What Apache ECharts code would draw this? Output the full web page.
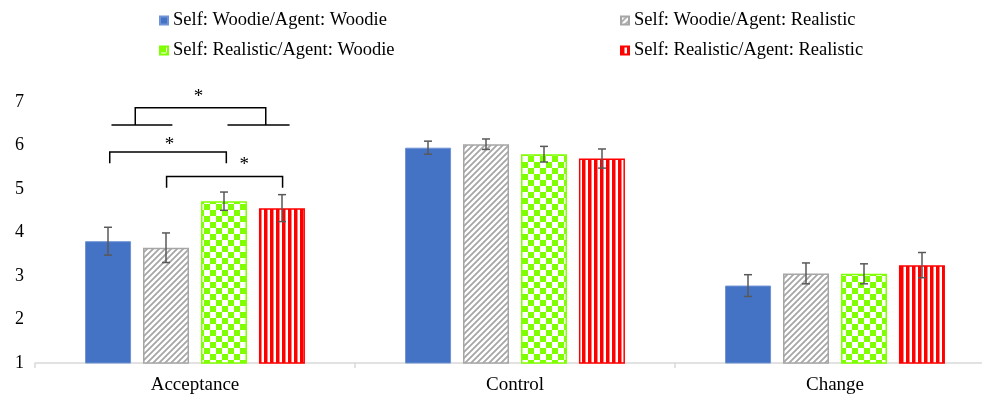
<!DOCTYPE html>
<html>
<head>
<meta charset="utf-8">
<script src="https://cdn.jsdelivr.net/npm/echarts@6/dist/echarts.min.js"></script>
<style>
  html, body { margin: 0; padding: 0; background: #fff; }
  #chart { width: 982px; height: 396px; }
</style>
</head>
<body>
<div id="chart"></div>
<script>
// Scale means per condition and their error margins
const categories = ['Acceptance', 'Control', 'Change'];
const seriesNames = [
  'Self: Woodie/Agent: Woodie',
  'Self: Woodie/Agent: Realistic',
  'Self: Realistic/Agent: Woodie',
  'Self: Realistic/Agent: Realistic'
];
const woodieWoodie = [3.80, 5.95, 2.78];
const woodieRealistic = [3.65, 6.03, 3.06];
const realisticWoodie = [4.72, 5.80, 3.05];
const realisticRealistic = [4.56, 5.70, 3.25];
const errWoodieWoodie = [0.32, 0.15, 0.25];
const errWoodieRealistic = [0.34, 0.12, 0.24];
const errRealisticWoodie = [0.21, 0.18, 0.23];
const errRealisticRealistic = [0.31, 0.22, 0.29];
const yTicks = [1, 2, 3, 4, 5, 6, 7];

// Significance brackets over the Acceptance group (bar slots -1.5..1.5, y in scale units)
const pairSpans = [[-1.47, 0.54], [-0.49, 1.51]];
const pairLevels = [5.85, 5.29];
const pairStars = [[-0.44, 6.00], [0.85, 5.55]];
const groupBases = [[-1.44, -0.39], [0.56, 1.63]];
const groupLegs = [-1.03, 1.22];
const groupLevel = 6.87;
const groupBaseLevel = 6.47;
const groupStar = [0.06, 7.11];

const means = [woodieWoodie, woodieRealistic, realisticWoodie, realisticRealistic];
const errs = [errWoodieWoodie, errWoodieRealistic, errRealisticWoodie, errRealisticRealistic];

const FONT = '"Liberation Serif", "Times New Roman", serif';
const BAR_W = 46;
const BAR_STEP = 58;

function makeCanvas(w, h, draw) {
  const c = document.createElement('canvas');
  c.width = w; c.height = h;
  const ctx = c.getContext('2d');
  ctx.fillStyle = '#ffffff';
  ctx.fillRect(0, 0, w, h);
  draw(ctx);
  return c;
}
// diagonal hatch (/)
const hatch = makeCanvas(6, 6, ctx => {
  ctx.strokeStyle = '#a6a6a6';
  ctx.lineWidth = 1.8;
  ctx.beginPath();
  ctx.moveTo(-1, 7); ctx.lineTo(7, -1);
  ctx.moveTo(-4, 4); ctx.lineTo(4, -4);
  ctx.moveTo(2, 10); ctx.lineTo(10, 2);
  ctx.stroke();
});
// checkerboard
const checker = makeCanvas(12, 12, ctx => {
  ctx.fillStyle = '#80ff00';
  ctx.fillRect(0, 0, 6, 6);
  ctx.fillRect(6, 6, 6, 6);
});
// vertical stripes
const stripes = makeCanvas(6, 6, ctx => {
  ctx.fillStyle = '#ff0000';
  ctx.fillRect(0, 0, 3.5, 6);
});

const styles = [
  { color: '#4472c4', borderColor: '#6f93d6', borderWidth: 1 },
  { color: { image: hatch, repeat: 'repeat' }, borderColor: '#a6a6a6', borderWidth: 1.5 },
  { color: { image: checker, repeat: 'repeat' }, borderColor: '#80ff00', borderWidth: 1.5 },
  { color: { image: stripes, repeat: 'repeat' }, borderColor: '#ff0000', borderWidth: 1.5 }
];

const barSeries = seriesNames.map((name, i) => ({
  name,
  type: 'bar',
  data: means[i],
  barWidth: BAR_W,
  barGap: '26%',
  itemStyle: styles[i],
  emphasis: { disabled: true },
  z: 2
}));

const errData = [];
means.forEach((m, s) => m.forEach((v, c) => errData.push([c, s, v - errs[s][c], v + errs[s][c]])));

const errSeries = {
  type: 'custom',
  silent: true,
  z: 5,
  data: errData,
  encode: { x: 0, y: [2, 3] },
  renderItem(params, api) {
    const c = api.value(0), s = api.value(1);
    const x = api.coord([c, 0])[0] + (s - 1.5) * BAR_STEP;
    const y1 = api.coord([c, api.value(2)])[1];
    const y2 = api.coord([c, api.value(3)])[1];
    const st = { stroke: '#595959', lineWidth: 1.5 };
    return {
      type: 'group',
      children: [
        { type: 'line', shape: { x1: x, y1: y1, x2: x, y2: y2 }, style: st },
        { type: 'line', shape: { x1: x - 4, y1: y1, x2: x + 4, y2: y1 }, style: st },
        { type: 'line', shape: { x1: x - 4, y1: y2, x2: x + 4, y2: y2 }, style: st }
      ]
    };
  }
};

const bracketSeries = {
  type: 'custom',
  silent: true,
  z: 6,
  data: [[0, 7]],
  encode: { x: 0, y: 1 },
  renderItem(params, api) {
    const cx = api.coord([0, 0])[0];
    const px = s => cx + s * BAR_STEP;
    const py = v => api.coord([0, v])[1];
    const st = { stroke: '#000', lineWidth: 1.5, fill: null };
    const kids = [];
    const star = (p) => kids.push({
      type: 'text',
      style: { text: '*', x: px(p[0]), y: py(p[1]), align: 'center', verticalAlign: 'middle',
               font: '19px ' + FONT, fill: '#000' }
    });
    pairSpans.forEach((sp, i) => {
      const top = py(pairLevels[i]);
      const bot = py(pairLevels[i] - 0.26);
      kids.push({ type: 'polyline', shape: { points: [[px(sp[0]), bot], [px(sp[0]), top], [px(sp[1]), top], [px(sp[1]), bot]] }, style: st });
      star(pairStars[i]);
    });
    const gt = py(groupLevel), gb = py(groupBaseLevel);
    kids.push({ type: 'polyline', shape: { points: [[px(groupLegs[0]), gb], [px(groupLegs[0]), gt], [px(groupLegs[1]), gt], [px(groupLegs[1]), gb]] }, style: st });
    groupBases.forEach(b => kids.push({ type: 'line', shape: { x1: px(b[0]), y1: gb, x2: px(b[1]), y2: gb }, style: st }));
    star(groupStar);
    return { type: 'group', children: kids };
  }
};

const chart = echarts.init(document.getElementById('chart'), null, { renderer: 'canvas' });
const legendCommon = {
  orient: 'vertical',
  top: 6,
  itemGap: 11,
  itemWidth: 8,
  itemHeight: 8,
  icon: 'rect',
  selectedMode: false,
  textStyle: { fontFamily: FONT, fontSize: 18.5, lineHeight: 18, color: '#000' }
};
chart.setOption({
  animation: false,
  backgroundColor: '#fff',
  legend: [
    Object.assign({ left: 154, data: [seriesNames[0], seriesNames[2]] }, legendCommon),
    Object.assign({ left: 615, data: [seriesNames[1], seriesNames[3]] }, legendCommon)
  ],
  grid: { left: 35, top: 102, width: 960, height: 261, containLabel: false, outerBoundsMode: 'none' },
  xAxis: {
    type: 'category',
    data: categories,
    axisLine: { lineStyle: { color: '#d9d9d9', width: 1.5 } },
    axisTick: { show: true, length: 5, lineStyle: { color: '#d9d9d9', width: 1.5 } },
    axisLabel: { fontFamily: FONT, fontSize: 19, color: '#000', margin: 13 }
  },
  yAxis: {
    type: 'value',
    min: yTicks[0],
    max: yTicks[yTicks.length - 1],
    interval: 1,
    splitLine: { show: false },
    axisLine: { show: false },
    axisTick: { show: false },
    axisLabel: { fontFamily: FONT, fontSize: 18, color: '#000', margin: 11 }
  },
  series: [...barSeries, errSeries, bracketSeries]
});
</script>
</body>
</html>
